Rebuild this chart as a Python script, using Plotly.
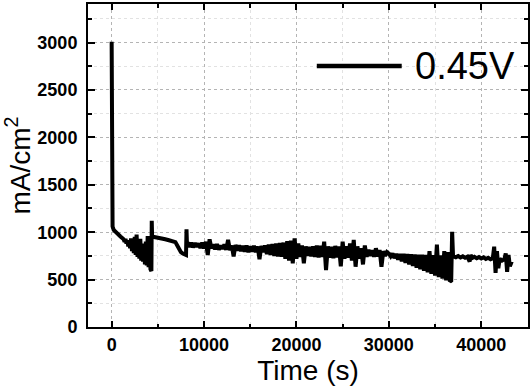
import plotly.graph_objects as go

# ---- data ----
t_start = [0, 15, 40, 100, 220, 450, 700, 950, 1200]
v_start = [3010, 1400, 1100, 1060, 1025, 1000, 975, 955, 935]

t_early = [1300, 1400, 1500, 1600, 1700, 1800, 1900, 2000, 2100, 2200, 2300, 2400,
           2500, 2600, 2700, 2800, 2900, 3000, 3100, 3200, 3300, 3400, 3500, 3600,
           3700, 3800, 3900, 4000, 4100, 4200, 4300]
v_early = [925, 900, 930, 880, 915, 850, 905, 830, 935, 800, 900, 780, 950, 760,
           975, 740, 900, 720, 930, 700, 880, 690, 870, 660, 900, 650, 960, 630,
           850, 610, 590]

t_plateau = [4340, 4380, 4600, 5000, 5400, 5800, 6200, 6600, 6900, 7100, 7300,
             7500, 7700, 7900, 8050, 8100, 8150]
v_plateau = [1120, 955, 950, 945, 935, 925, 915, 905, 895, 860, 820, 790, 775,
             765, 760, 1030, 880]

t_band = [8200, 8400, 8600, 8800, 9000, 9200, 9400, 9600, 9800, 10000,
          10200, 10400, 10600, 10800, 11000, 11200, 11400, 11600, 11800, 12000,
          12200, 12400, 12600, 12800, 13000, 13200, 13400, 13600, 13800, 14000,
          14200, 14400, 14600, 14800, 15000, 15200, 15400, 15600, 15800, 16000,
          16200, 16400, 16600, 16800, 17000, 17200, 17400, 17600, 17800, 18000,
          18200, 18400, 18600, 18800, 19000, 19200, 19400, 19600, 19800, 20000,
          20200, 20400, 20600, 20800, 21000, 21200, 21400, 21600, 21800, 22000,
          22200, 22400, 22600, 22800, 23000, 23200, 23400, 23600, 23800, 24000,
          24200, 24400, 24600, 24800, 25000, 25200, 25400, 25600, 25800, 26000,
          26200, 26400, 26600, 26800, 27000, 27200, 27400, 27600, 27800, 28000,
          28200, 28400, 28600, 28800, 29000, 29200, 29400, 29600, 29800]
v_band = [895, 845, 890, 840, 885, 845, 880, 835, 890, 830,
          900, 760, 925, 830, 870, 820, 875, 815, 860, 825,
          870, 815, 918, 810, 860, 745, 865, 805, 860, 800,
          855, 795, 860, 790, 850, 795, 855, 790, 850, 715,
          855, 790, 860, 770, 870, 760, 875, 750, 880, 745,
          885, 740, 890, 720, 905, 700, 910, 672, 935, 720,
          880, 740, 860, 672, 850, 750, 845, 745, 850, 740,
          860, 735, 855, 740, 900, 601, 850, 730, 845, 725,
          855, 735, 850, 640, 900, 720, 850, 730, 880, 700,
          918, 636, 850, 720, 830, 660, 860, 740, 815, 750,
          810, 740, 830, 745, 812, 636, 800, 750, 790]

t_wedge = [30000, 30200, 30400, 30600, 30800, 31000, 31200, 31400, 31600, 31800,
           32000, 32200, 32400, 32600, 32800, 33000, 33200, 33400, 33600, 33800,
           34000, 34200, 34400, 34600, 34800, 35000, 35200, 35400, 35600, 35800,
           36000, 36200, 36400, 36600, 36750, 36850, 36950]
v_wedge = [775, 745, 775, 727, 772, 710, 770, 693, 770, 676,
           768, 660, 766, 643, 765, 626, 763, 610, 762, 593,
           760, 576, 800, 560, 758, 543, 870, 526, 755, 510,
           800, 493, 790, 480, 490, 1005, 740]

t_late = [37000, 37250, 37500, 37750, 38000, 38250, 38500, 38750, 38850, 39000,
          39250, 39500, 39750, 40000, 40250, 40500, 40750, 41000, 41250, 41400,
          41550, 41700, 41850, 42000, 42250, 42500, 42650, 42800, 42950, 43100,
          43300]
v_late = [745, 735, 748, 733, 745, 730, 742, 690, 760, 728,
          740, 725, 737, 722, 735, 718, 730, 715, 725, 847,
          570, 800, 620, 720, 700, 715, 777, 583, 760, 640,
          690]

series_name = "0.45V"
x_title = "Time (s)"
y_title = "mA/cm<sup>2</sup>\u00a0\u00a0"

time = t_start + t_early + t_plateau + t_band + t_wedge + t_late
current = v_start + v_early + v_plateau + v_band + v_wedge + v_late

FONT = "Liberation Sans, Arial, sans-serif"

fig = go.Figure()
fig.add_trace(go.Scatter(x=time, y=current, mode="lines", name=series_name,
                         line=dict(color="black", width=4),
                         showlegend=False))

axis_common = dict(
    automargin=False,
    showline=True, linecolor="black", linewidth=2, mirror="ticks",
    ticks="inside", tickwidth=2, tickcolor="black",
    showgrid=True, gridcolor="#b4b4b4", gridwidth=1, griddash="dot",
    zeroline=False, tickformat="d",
    tickfont=dict(family=FONT, size=18, color="black", weight="bold"),
)

fig.update_xaxes(
    range=[-2560, 45060], tick0=0, dtick=10000, ticklen=6,
    minor=dict(dtick=5000, tick0=0, ticks="inside", ticklen=3.5, tickwidth=2,
               tickcolor="black", showgrid=True, gridcolor="#e2e2e2",
               griddash="dot", gridwidth=1),
    title=dict(text=x_title, font=dict(family=FONT, size=28, color="black"),
               standoff=0),
    ticklabelstandoff=0,
    **axis_common,
)
fig.update_yaxes(
    range=[0, 3407], tick0=0, dtick=500, ticklen=7,
    minor=dict(dtick=250, tick0=0, ticks="inside", ticklen=4, tickwidth=2,
               tickcolor="black", showgrid=True, gridcolor="#e2e2e2",
               griddash="dot", gridwidth=1),
    title=dict(text=y_title, font=dict(family=FONT, size=28, color="black"),
               standoff=4),
    ticklabelstandoff=5,
    **axis_common,
)

# legend-like key drawn in the upper right
fig.add_shape(type="line", xref="paper", yref="paper",
              x0=0.52, x1=0.713, y0=0.808, y1=0.808,
              line=dict(color="black", width=4.5))
fig.add_annotation(text=series_name, xref="paper", yref="paper",
                   x=0.7386, y=0.808, xanchor="left", yanchor="middle",
                   showarrow=False,
                   font=dict(family=FONT, size=38, color="black"))

fig.update_layout(
    width=532, height=388,
    margin=dict(l=88, r=4, t=4, b=61),
    plot_bgcolor="white", paper_bgcolor="white",
)

fig.write_html("out.html",
               config={"displayModeBar": False},
               post_script="document.body.style.margin='0px';"
                           "document.body.style.padding='0px';")
